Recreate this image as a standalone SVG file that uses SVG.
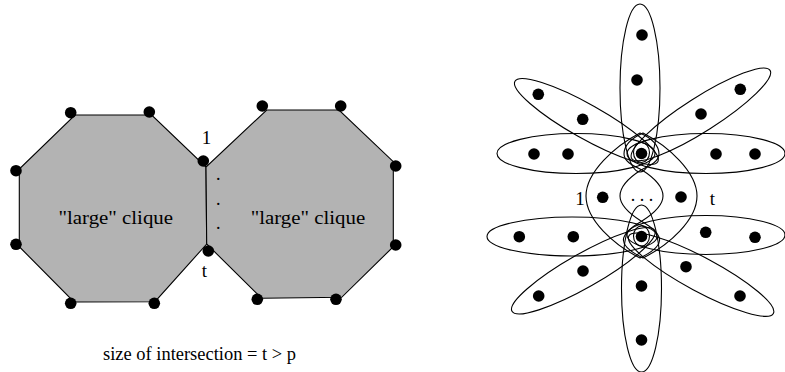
<svg xmlns="http://www.w3.org/2000/svg" xmlns:xlink="http://www.w3.org/1999/xlink" width="785" height="372" viewBox="0 0 785 372">
<style>
.oct{fill:#b3b3b3;stroke:#000;stroke-width:1.1}
.dot{fill:#000}
.e{fill:none;stroke:#000;stroke-width:1.1}
.t{font-family:"Liberation Serif","Times New Roman",serif;font-size:18px;fill:#000}
.s{font-size:19px}
</style>
<defs>
<path id="lens" d="M640,133 C615,146 586,172 586,196 C586,220 614,245 640,258 C652,252 662,244 659,237 C656,229 647,225 641,221 C630,214 620,206 620,196 C620,186 630,177 641,170 C649,166 659,162 659,154 C659,145 651,138 640,133 Z"/>
</defs>
<rect width="785" height="372" fill="#fff"/>
<g id="clique1">
<polygon class="oct" points="75,115 151.7,115 206,167 206.7,244 155,301.7 74,302 19.3,246.7 19.3,169"/>
<text class="t" x="58.5" y="224" textLength="114.5" lengthAdjust="spacingAndGlyphs">"large" clique</text>
</g>
<g id="clique2">
<polygon class="oct" points="266.7,110 339,110 393.3,161.7 393.3,246.7 341.7,297.3 261.7,298.3 206.7,244 206,167"/>
<text class="t" x="250.7" y="224" textLength="114.5" lengthAdjust="spacingAndGlyphs">"large" clique</text>
</g>
<g id="vertices-left">
<circle class="dot" cx="70.7" cy="112.7" r="5.8"/>
<circle class="dot" cx="149.3" cy="112" r="5.8"/>
<circle class="dot" cx="203.3" cy="161" r="5.8"/>
<circle class="dot" cx="208.3" cy="251" r="5.8"/>
<circle class="dot" cx="154.3" cy="303.3" r="5.8"/>
<circle class="dot" cx="70.7" cy="303.3" r="5.8"/>
<circle class="dot" cx="16" cy="244.3" r="5.8"/>
<circle class="dot" cx="16" cy="170.7" r="5.8"/>
<circle class="dot" cx="262.3" cy="106" r="5.8"/>
<circle class="dot" cx="340.7" cy="106" r="5.8"/>
<circle class="dot" cx="395.7" cy="166" r="5.8"/>
<circle class="dot" cx="395.7" cy="245" r="5.8"/>
<circle class="dot" cx="336" cy="299.3" r="5.8"/>
<circle class="dot" cx="257.3" cy="299.3" r="5.8"/>
</g>
<g id="labels-left">
<text class="t s" x="206.5" y="144" text-anchor="middle">1</text>
<text class="t s" x="204.5" y="277" text-anchor="middle">t</text>
<text class="t" x="218.3" y="180" text-anchor="middle">.</text>
<text class="t" x="218.3" y="205" text-anchor="middle">.</text>
<text class="t" x="218.3" y="229" text-anchor="middle">.</text>
<text class="t" x="103" y="360" textLength="193" lengthAdjust="spacingAndGlyphs">size of intersection = t &gt; p</text>
</g>
<g id="connectors">
<ellipse class="e" cx="640" cy="88" rx="20" ry="84"/>
<ellipse class="e" cx="576" cy="153.5" rx="79" ry="20"/>
<ellipse class="e" cx="706" cy="153.5" rx="79" ry="20"/>
<ellipse class="e" cx="586.4" cy="121.5" rx="82" ry="17" transform="rotate(29.4 586.4 121.5)"/>
<ellipse class="e" cx="700.9" cy="114.4" rx="82" ry="17" transform="rotate(-32.5 700.9 114.4)"/>
<ellipse class="e" cx="641.5" cy="288.5" rx="20" ry="83.5"/>
<ellipse class="e" cx="572" cy="236.5" rx="85" ry="19.5"/>
<ellipse class="e" cx="706" cy="235" rx="79" ry="19.5"/>
<ellipse class="e" cx="583.3" cy="270.8" rx="82" ry="17" transform="rotate(-29.6 583.3 270.8)"/>
<ellipse class="e" cx="701.1" cy="274.7" rx="82" ry="17" transform="rotate(28.2 701.1 274.7)"/>
<ellipse class="e" cx="641.5" cy="152.5" rx="8" ry="10"/>
<ellipse class="e" cx="641.5" cy="236" rx="8" ry="10"/>
<use xlink:href="#lens" class="e"/>
<use xlink:href="#lens" class="e" transform="matrix(-1 0 0 1 1283 0)"/>
</g>
<g id="vertices-right">
<circle class="dot" cx="642" cy="35" r="5.8"/>
<circle class="dot" cx="637" cy="80" r="5.8"/>
<circle class="dot" cx="641.5" cy="153.5" r="5.8"/>
<circle class="dot" cx="534" cy="154" r="5.8"/>
<circle class="dot" cx="568" cy="154" r="5.8"/>
<circle class="dot" cx="716" cy="154" r="5.8"/>
<circle class="dot" cx="755" cy="154" r="5.8"/>
<circle class="dot" cx="538.3" cy="94.3" r="5.8"/>
<circle class="dot" cx="582.7" cy="119.3" r="5.8"/>
<circle class="dot" cx="740.3" cy="89.3" r="5.8"/>
<circle class="dot" cx="701" cy="114" r="5.8"/>
<circle class="dot" cx="602.7" cy="197.3" r="5.8"/>
<circle class="dot" cx="681" cy="197" r="5.8"/>
<circle class="dot" cx="641.5" cy="236.5" r="5.8"/>
<circle class="dot" cx="519.3" cy="236.7" r="5.8"/>
<circle class="dot" cx="573.3" cy="236.7" r="5.8"/>
<circle class="dot" cx="705.7" cy="232.3" r="5.8"/>
<circle class="dot" cx="755" cy="237.3" r="5.8"/>
<circle class="dot" cx="583" cy="271" r="5.8"/>
<circle class="dot" cx="538.7" cy="296" r="5.8"/>
<circle class="dot" cx="686" cy="266.7" r="5.8"/>
<circle class="dot" cx="740" cy="296" r="5.8"/>
<circle class="dot" cx="641.5" cy="286" r="5.8"/>
<circle class="dot" cx="641.5" cy="340" r="5.8"/>
</g>
<g id="labels-right">
<text class="t s" x="580" y="205" text-anchor="middle">1</text>
<text class="t s" x="712.5" y="205" text-anchor="middle">t</text>
<text class="t" x="642" y="201" text-anchor="middle">. . .</text>
</g>
</svg>
